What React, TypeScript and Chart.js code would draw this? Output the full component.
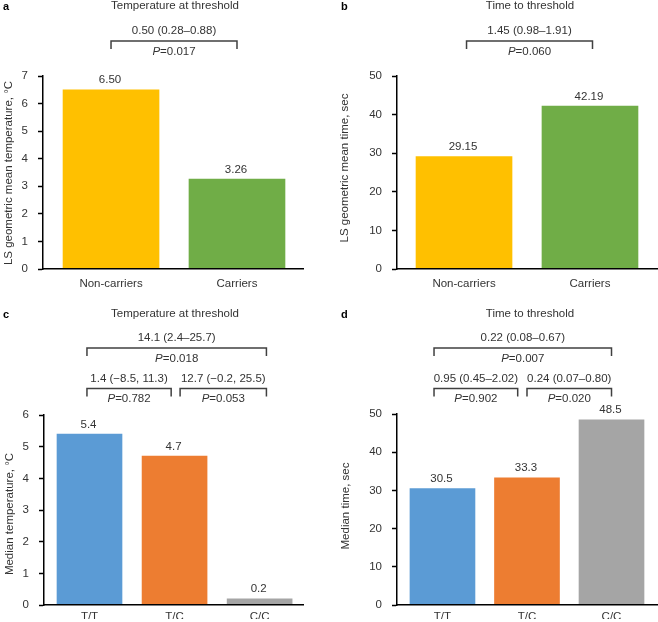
import React, { useEffect, useRef } from 'react';
import { Chart, registerables } from 'chart.js';

Chart.register(...registerables);

const FONT_FAMILY = '"Liberation Sans", Arial, Helvetica, sans-serif';
const TEXT_COLOR = '#333333';
const BRACKET_COLOR = '#404040';

// ---- Data ----
const carrierCategories = ['Non-carriers', 'Carriers'];
const carrierTempValues = [6.5, 3.26];
const carrierTimeValues = [29.15, 42.19];
const carrierColors = ['#FFC000', '#70AD47'];

const genotypeCategories = ['T/T', 'T/C', 'C/C'];
const genotypeTempValues = [5.4, 4.7, 0.2];
const genotypeTimeValues = [30.5, 33.3, 48.5];
const genotypeColors = ['#5B9BD5', '#ED7D31', '#A5A5A5'];

// comparisons: [estimate (CI), P value]
const carrierTempComparison = ['0.50 (0.28–0.88)', '0.017'];
const carrierTimeComparison = ['1.45 (0.98–1.91)', '0.060'];
const genotypeTempComparisons = [
  ['14.1 (2.4–25.7)', '0.018'],
  ['1.4 (−8.5, 11.3)', '0.782'],
  ['12.7 (−0.2, 25.5)', '0.053'],
];
const genotypeTimeComparisons = [
  ['0.22 (0.08–0.67)', '0.007'],
  ['0.95 (0.45–2.02)', '0.902'],
  ['0.24 (0.07–0.80)', '0.020'],
];

const PANEL_W = 329;
const PANEL_H = 311;

type Bracket = {
  from: number; to: number; label: string; p: string;
  textY: number; lineY: number; tickY: number; pY: number;
};

type PanelSpec = {
  letter: string; left: number; top: number; shift: number;
  title: string; titleX: number; titleY: number; letterX: number;
  yTitle: string; yTitleX: number; yTitleY: number;
  categories: string[]; values: number[]; colors: string[]; decimals: number;
  yMax: number; yStep: number;
  area: { left: number; right: number; top: number; bottom: number };
  xMin: number; xMax: number; barWidth: number;
  xAxisH: number; xLabelPad: number;
  brackets: Bracket[];
};

const topRow = (from: number, to: number, c: string[]): Bracket => ({
  from, to, label: c[0], p: c[1], textY: 31, lineY: 41, tickY: 49, pY: 52,
});
const outerRow = (from: number, to: number, c: string[]): Bracket => ({
  from, to, label: c[0], p: c[1], textY: 27, lineY: 37, tickY: 45, pY: 48,
});
const innerRow = (from: number, to: number, c: string[]): Bracket => ({
  from, to, label: c[0], p: c[1], textY: 67.5, lineY: 77.5, tickY: 85.5, pY: 88,
});

const panels: PanelSpec[] = [
  {
    letter: 'a', left: 0, top: 0, shift: 0,
    title: 'Temperature at threshold', titleX: 175, titleY: 5.5, letterX: 3,
    yTitle: 'LS geometric mean temperature, °C', yTitleX: 9, yTitleY: 173,
    categories: carrierCategories, values: carrierTempValues, colors: carrierColors, decimals: 2,
    yMax: 7, yStep: 1,
    area: { left: 43, right: 303, top: 76, bottom: 269 },
    xMin: -0.54, xMax: 1.524, barWidth: 96, xAxisH: 30, xLabelPad: 0,
    brackets: [topRow(0, 1, carrierTempComparison)],
  },
  {
    letter: 'b', left: 329, top: 0, shift: 0,
    title: 'Time to threshold', titleX: 201, titleY: 5.5, letterX: 12,
    yTitle: 'LS geometric mean time, sec', yTitleX: 16, yTitleY: 168,
    categories: carrierCategories, values: carrierTimeValues, colors: carrierColors, decimals: 2,
    yMax: 50, yStep: 10,
    area: { left: 68, right: 328, top: 76, bottom: 269 },
    xMin: -0.532, xMax: 1.532, barWidth: 96, xAxisH: 30, xLabelPad: 0,
    brackets: [topRow(0.02, 1.02, carrierTimeComparison)],
  },
  {
    letter: 'c', left: 0, top: 311, shift: 12,
    title: 'Temperature at threshold', titleX: 175, titleY: 2.5, letterX: 3,
    yTitle: 'Median temperature, °C', yTitleX: 10, yTitleY: 203,
    categories: genotypeCategories, values: genotypeTempValues, colors: genotypeColors, decimals: 1,
    yMax: 6, yStep: 1,
    area: { left: 44, right: 303, top: 104, bottom: 297 },
    xMin: -0.535, xMax: 2.51, barWidth: 65, xAxisH: 14, xLabelPad: -3,
    brackets: [
      outerRow(-0.03, 2.08, genotypeTempComparisons[0]),
      innerRow(-0.03, 0.96, genotypeTempComparisons[1]),
      innerRow(1.065, 2.08, genotypeTempComparisons[2]),
    ],
  },
  {
    letter: 'd', left: 329, top: 311, shift: 12,
    title: 'Time to threshold', titleX: 201, titleY: 2.5, letterX: 12,
    yTitle: 'Median time, sec', yTitleX: 17, yTitleY: 195,
    categories: genotypeCategories, values: genotypeTimeValues, colors: genotypeColors, decimals: 1,
    yMax: 50, yStep: 10,
    area: { left: 68, right: 329, top: 103, bottom: 297 },
    xMin: -0.538, xMax: 2.55, barWidth: 65, xAxisH: 14, xLabelPad: -3,
    brackets: [
      outerRow(-0.1, 2.0, genotypeTimeComparisons[0]),
      innerRow(-0.1, 0.89, genotypeTimeComparisons[1]),
      innerRow(1.0, 2.0, genotypeTimeComparisons[2]),
    ],
  },
];

const font = (size: number, style = '', weight = '') =>
  `${style} ${weight} ${size}px ${FONT_FAMILY}`.trim();

function drawPValue(ctx: CanvasRenderingContext2D, cx: number, y: number, p: string) {
  ctx.font = font(11.5, 'italic');
  const w1 = ctx.measureText('P').width;
  ctx.font = font(11.5);
  const rest = '=' + p;
  const w2 = ctx.measureText(rest).width;
  const start = cx - (w1 + w2) / 2;
  ctx.textAlign = 'left';
  ctx.font = font(11.5, 'italic');
  ctx.fillText('P', start, y);
  ctx.font = font(11.5);
  ctx.fillText(rest, start + w1, y);
}

function makeAnnotations(spec: PanelSpec) {
  const s = spec.shift;
  return {
    id: 'annotations-' + spec.letter,
    afterDraw(chart: any) {
      const ctx: CanvasRenderingContext2D = chart.ctx;
      const xs = chart.scales.x;
      const ys = chart.scales.y;
      ctx.save();
      ctx.fillStyle = TEXT_COLOR;
      ctx.textBaseline = 'middle';

      // panel letter
      ctx.textAlign = 'left';
      ctx.font = font(11, '', 'bold');
      ctx.fillStyle = '#000';
      ctx.fillText(spec.letter, spec.letterX, spec.titleY + s + 1);
      ctx.fillStyle = TEXT_COLOR;

      // title
      ctx.textAlign = 'center';
      ctx.font = font(11.5);
      ctx.fillText(spec.title, spec.titleX, spec.titleY + s);

      // y-axis title
      ctx.save();
      ctx.translate(spec.yTitleX, spec.yTitleY + s);
      ctx.rotate(-Math.PI / 2);
      ctx.textAlign = 'center';
      ctx.fillText(spec.yTitle, 0, 0);
      ctx.restore();

      // value labels
      ctx.textAlign = 'center';
      ctx.font = font(11.5);
      spec.values.forEach((v, i) => {
        const x = xs.getPixelForValue(i);
        const y = ys.getPixelForValue(v);
        ctx.fillText(v.toFixed(spec.decimals), x - 1, y - 9.5);
      });

      // brackets
      spec.brackets.forEach((b) => {
        const x1 = xs.getPixelForValue(b.from);
        const x2 = xs.getPixelForValue(b.to);
        ctx.strokeStyle = BRACKET_COLOR;
        ctx.lineWidth = 1.5;
        ctx.beginPath();
        ctx.moveTo(x1, b.tickY + s);
        ctx.lineTo(x1, b.lineY + s);
        ctx.lineTo(x2, b.lineY + s);
        ctx.lineTo(x2, b.tickY + s);
        ctx.stroke();
        const cx = (x1 + x2) / 2;
        ctx.textAlign = 'center';
        ctx.font = font(11.5);
        ctx.fillStyle = TEXT_COLOR;
        ctx.fillText(b.label, cx, b.textY + s);
        drawPValue(ctx, cx, b.pY + s, b.p);
      });
      ctx.restore();
    },
  };
}

function Panel({ spec }: { spec: PanelSpec }) {
  const ref = useRef<HTMLCanvasElement | null>(null);
  const h = PANEL_H + spec.shift;
  useEffect(() => {
    if (!ref.current) return;
    const { area } = spec;
    const chart = new Chart(ref.current, {
      type: 'bar',
      data: {
        datasets: [
          {
            data: spec.values.map((v, i) => ({ x: i, y: v })),
            backgroundColor: spec.colors,
            borderWidth: 0,
            barThickness: spec.barWidth,
          } as any,
        ],
      },
      options: {
        responsive: false,
        animation: false,
        devicePixelRatio: 1,
        layout: {
          padding: {
            top: area.top + spec.shift,
            left: 0,
            right: PANEL_W - area.right,
            bottom: PANEL_H - area.bottom - spec.xAxisH,
          },
        },
        plugins: { legend: { display: false }, tooltip: { enabled: false } },
        scales: {
          x: {
            type: 'linear',
            min: spec.xMin,
            max: spec.xMax,
            bounds: 'data',
            offset: false,
            z: 1,
            grid: { display: false },
            border: { display: true, color: '#000', width: 1.5, z: 1 } as any,
            afterBuildTicks: (sc: any) => {
              sc.ticks = spec.categories.map((_, i) => ({ value: i }));
            },
            afterFit: (sc: any) => {
              sc.height = spec.xAxisH;
            },
            ticks: {
              callback: (v: any) => spec.categories[v as number] ?? '',
              padding: spec.xLabelPad,
              autoSkip: false,
              maxRotation: 0,
              color: TEXT_COLOR,
              font: { family: FONT_FAMILY, size: 11.5 },
            },
          },
          y: {
            min: 0,
            max: spec.yMax,
            grid: {
              drawOnChartArea: false,
              drawTicks: true,
              tickLength: 5,
              tickColor: '#000',
              tickWidth: 1.5,
            },
            border: { display: true, color: '#000', width: 1.5 },
            afterFit: (sc: any) => {
              sc.width = area.left;
            },
            ticks: {
              stepSize: spec.yStep,
              padding: 10,
              color: TEXT_COLOR,
              font: { family: FONT_FAMILY, size: 11.5 },
            },
          },
        },
      } as any,
      plugins: [makeAnnotations(spec)],
    });
    return () => chart.destroy();
  }, [spec]);
  return (
    <canvas
      ref={ref}
      width={PANEL_W}
      height={h}
      style={{
        position: 'absolute',
        left: spec.left,
        top: spec.top - spec.shift,
        width: PANEL_W,
        height: h,
      }}
    />
  );
}

export default function App() {
  return (
    <div
      style={{
        position: 'fixed',
        left: 0,
        top: 0,
        width: 658,
        height: 622,
        background: '#fff',
        overflow: 'hidden',
      }}
    >
      {panels.map((p) => (
        <Panel key={p.letter} spec={p} />
      ))}
    </div>
  );
}
